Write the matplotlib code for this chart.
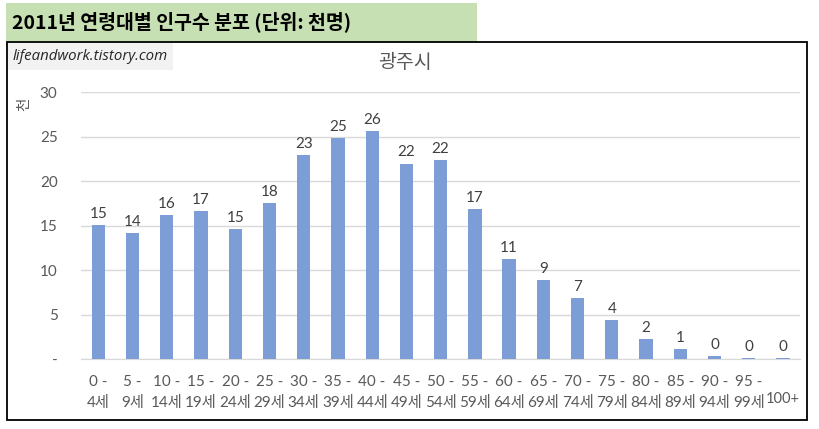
import matplotlib.pyplot as plt
import matplotlib.transforms as mtransforms
from matplotlib.patches import Rectangle

plt.rcParams['font.family'] = ['Lato', 'Noto Sans CJK KR', 'DejaVu Sans']

age_groups = ['0 -\n4세', '5 -\n9세', '10 -\n14세', '15 -\n19세', '20 -\n24세', '25 -\n29세',
              '30 -\n34세', '35 -\n39세', '40 -\n44세', '45 -\n49세', '50 -\n54세', '55 -\n59세',
              '60 -\n64세', '65 -\n69세', '70 -\n74세', '75 -\n79세', '80 -\n84세', '85 -\n89세',
              '90 -\n94세', '95 -\n99세', '100+']
population = [15.1, 14.2, 16.2, 16.7, 14.6, 17.6, 23.0, 24.9, 25.6, 22.0, 22.4,
              16.9, 11.3, 8.9, 6.9, 4.4, 2.3, 1.2, 0.4, 0.2, 0.1]
y_ticks = [0, 5, 10, 15, 20, 25, 30]

W, H = 819, 429
fig = plt.figure(figsize=(W / 100, H / 100), dpi=100)

def px(x, y):
    return x / W, 1 - y / H

# header band and title
fig.patches.append(Rectangle(px(6, 42), 471 / W, 39 / H, transform=fig.transFigure,
                             facecolor='#C6E0B4', edgecolor='none', zorder=0))
fig.text(*px(12, 22), '2011년 연령대별 인구수 분포 (단위: 천명)', fontsize=14,
         fontweight='bold', va='center', ha='left', color='black',
         family=['Noto Sans CJK KR', 'DejaVu Sans'])

# chart border
fig.patches.append(Rectangle(px(7, 420), 800 / W, 378 / H, transform=fig.transFigure,
                             facecolor='none', edgecolor='black', linewidth=1.3, zorder=5))

# watermark
fig.patches.append(Rectangle(px(8, 70), 165 / W, 27 / H, transform=fig.transFigure,
                             facecolor='#F2F2F2', edgecolor='none', zorder=1))
fig.text(*px(13, 57), 'lifeandwork.tistory.com', fontsize=10.8, style='italic',
         va='center', ha='left', color='#262626', family=['Open Sans', 'DejaVu Sans'])

fig.text(*px(405, 63), '광주시', fontsize=14, color='#595959', ha='center', va='center',
         family=['Noto Sans CJK KR', 'DejaVu Sans'])
fig.text(*px(24, 104), '천', fontsize=10.5, color='#595959', ha='center', va='center',
         rotation=90, family=['Noto Sans CJK KR', 'DejaVu Sans'])

left, right, top, bottom = 81.2, 800.1, 92.3, 359.3
ax = fig.add_axes([left / W, 1 - bottom / H, (right - left) / W, (bottom - top) / H])

x = range(len(age_groups))
bars = ax.bar(x, population, width=0.39, color='#7C9DD6', zorder=3)
for i, v in enumerate(population):
    ax.text(i, v + 0.45, f'{v:.0f}', ha='center', va='bottom', fontsize=11, color='#404040')

ax.set_xlim(-0.5, len(age_groups) - 0.5)
ax.set_ylim(0, 30)
ax.set_yticks(y_ticks)
ax.set_yticklabels(['-' if t == 0 else str(t) for t in y_ticks])
ax.grid(axis='y', color='#D9D9D9', linewidth=1, zorder=0)
for s in ['top', 'right', 'left']:
    ax.spines[s].set_visible(False)
ax.spines['bottom'].set_color('#D9D9D9')
ax.tick_params(axis='both', length=0, colors='#595959', labelsize=11)
ax.tick_params(axis='y', pad=17)
ax.tick_params(axis='x', pad=11)
ax.set_xticks(list(x))
ax.set_xticklabels(age_groups)
for lbl in ax.get_xticklabels():
    lbl.set_linespacing(1.65)
last = ax.get_xticklabels()[-1]
last.set_fontsize(10.5)
last.set_transform(last.get_transform() +
                   mtransforms.ScaledTranslation(0, -0.17, fig.dpi_scale_trans))
ax.set_facecolor('none')

fig.savefig('out.png', dpi=100)
